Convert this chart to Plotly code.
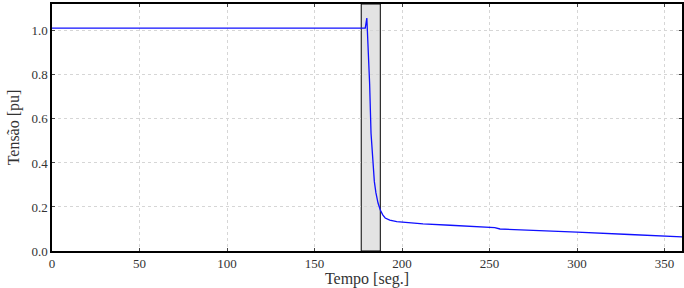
import plotly.graph_objects as go

# Data
tempo = [0, 50, 100, 150, 179.0, 179.9, 180.6, 181.5, 182.3, 183.4, 184.2, 185.1, 186.3, 187.6,
         189.0, 190.4, 193.0, 197.0, 205.0, 212.0, 227.5, 240.0, 250.0, 253.0, 256.0,
         270.0, 300.0, 330.0, 350.0, 360.0]
tensao = [1.012, 1.012, 1.012, 1.012, 1.012, 1.058, 0.93, 0.76, 0.535, 0.383, 0.315, 0.264, 0.218, 0.186,
          0.164, 0.150, 0.140, 0.133, 0.127, 0.123, 0.117, 0.113, 0.109, 0.106, 0.100,
          0.096, 0.086, 0.075, 0.067, 0.064]
faixa_inicio = 176.7
faixa_fim = 187.6
x_ticks = [0, 50, 100, 150, 200, 250, 300, 350]
y_ticks = [0.0, 0.2, 0.4, 0.6, 0.8, 1.0]

fig = go.Figure()
fig.add_shape(type="rect", xref="x", yref="paper", x0=faixa_inicio, x1=faixa_fim, y0=0, y1=1,
              fillcolor="#e3e3e3", line=dict(color="black", width=1), layer="below")
fig.add_trace(go.Scatter(x=tempo, y=tensao, mode="lines",
                         line=dict(color="#1010ff", width=1.3),
                         showlegend=False))

fig.update_layout(
    width=684, height=288,
    margin=dict(l=52, r=2, t=4, b=37, autoexpand=False),
    paper_bgcolor="white", plot_bgcolor="white",
    font=dict(family="Liberation Serif", size=13, color="#333333"),
    xaxis=dict(range=[0, 360], tickvals=x_ticks, ticks="inside", ticklen=3, mirror="ticks",
               showline=True, linecolor="black", linewidth=1.5, automargin=False,
               showgrid=True, gridcolor="#d6d6d6", griddash="dot", gridwidth=1,
               zeroline=False, title=dict(text="Tempo [seg.]", standoff=8)),
    yaxis=dict(range=[0, 1.122], tickvals=y_ticks, tickformat=".1f", ticks="inside", ticklen=3,
               mirror="ticks", showline=True, linecolor="black", linewidth=1.5, automargin=False,
               showgrid=True, gridcolor="#d6d6d6", griddash="dot", gridwidth=1,
               zeroline=False, title=dict(text="Tensão [pu]", standoff=8)),
)
fig.write_html("out.html")
